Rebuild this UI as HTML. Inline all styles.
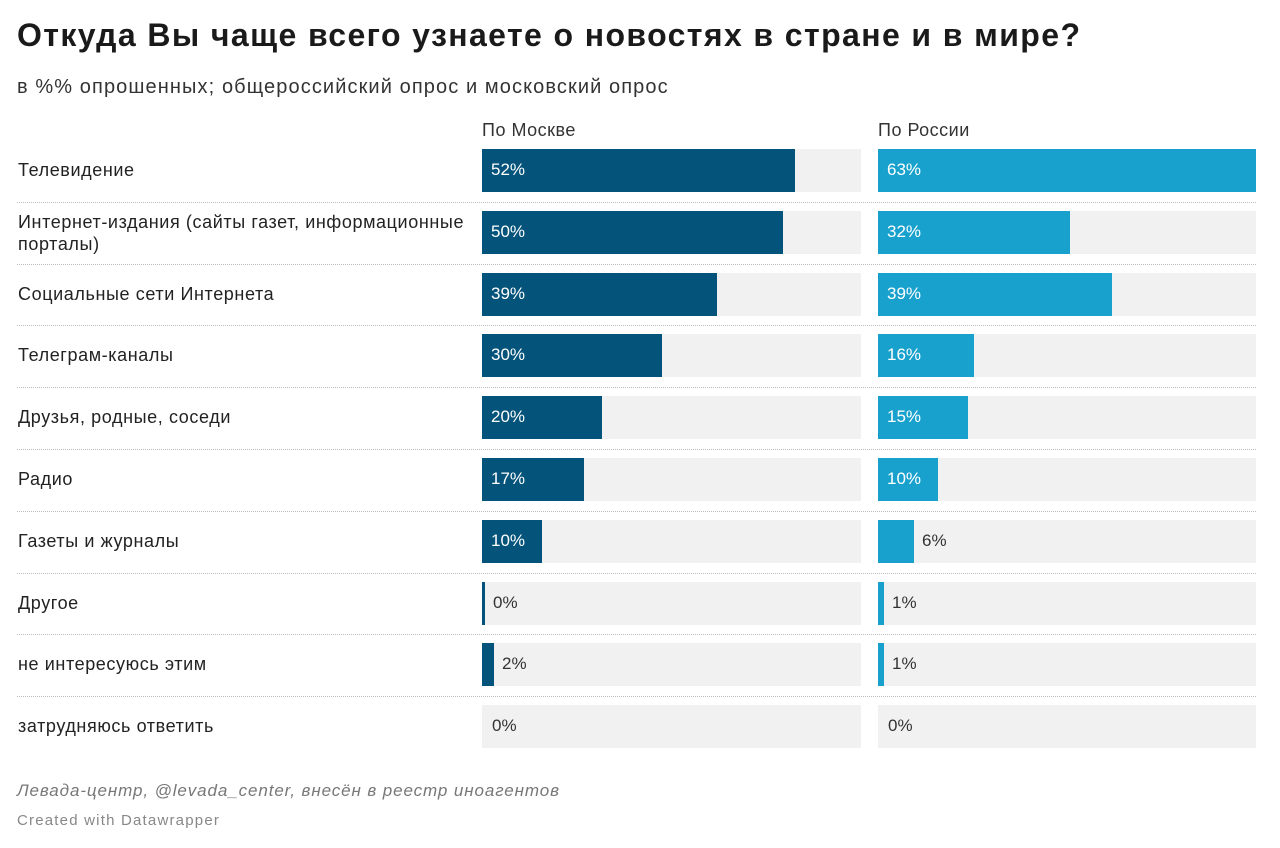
<!DOCTYPE html>
<html><head><meta charset="utf-8">
<style>
body{margin:0;background:#fff;font-family:"Liberation Sans","Noto Sans CJK SC",sans-serif;color:#222;}
#wrap{position:relative;width:1280px;height:848px;overflow:hidden;}
.t{position:absolute;white-space:nowrap;}
</style></head>
<body>
<div id="wrap">
<div class="t" style="left:17px;top:17px;font-size:32px;letter-spacing:1.4px;font-weight:bold;color:#1a1a1a;">Откуда Вы чаще всего узнаете о новостях в стране и в мире?</div>
<div class="t" style="left:17px;top:76px;font-size:20px;letter-spacing:1.1px;color:#333;">в %% опрошенных; общероссийский опрос и московский опрос</div>
<div class="t" style="left:482px;top:120px;font-size:18px;letter-spacing:0.5px;color:#333;">По Москве</div>
<div class="t" style="left:878px;top:120px;font-size:18px;letter-spacing:0.5px;color:#333;">По России</div>
<div id="rows"></div>
<div class="t" style="left:17px;top:781px;font-size:17px;letter-spacing:0.9px;font-style:italic;color:#777;">Левада-центр, @levada_center, внесён в реестр иноагентов</div>
<div class="t" style="left:17px;top:812px;font-size:15px;letter-spacing:1.2px;color:#888;">Created with Datawrapper</div>
</div>
<script>
const categories=["Телевидение","Интернет-издания (сайты газет, информационные<br>порталы)","Социальные сети Интернета","Телеграм-каналы","Друзья, родные, соседи","Радио","Газеты и журналы","Другое","не интересуюсь этим","затрудняюсь ответить"];
const moscow=[52,50,39,30,20,17,10,0.4,2,0];
const russia=[63,32,39,16,15,10,6,1,1,0];
const moscowLabels=["52%","50%","39%","30%","20%","17%","10%","0%","2%","0%"];
const russiaLabels=["63%","32%","39%","16%","15%","10%","6%","1%","1%","0%"];
const maxV=63;
const rowTop=149, rowStep=61.8, barH=43;
const cols=[{x:482,w:379,vals:moscow,labs:moscowLabels,color:"#03537a",name:"moscow"},{x:878,w:378,vals:russia,labs:russiaLabels,color:"#18a1cd",name:"russia"}];
const wrap=document.getElementById('rows');
function sx(v,w){return v/maxV*w;}
categories.forEach((c,i)=>{
  const y=rowTop+i*rowStep;
  const lab=document.createElement('div');
  lab.className='t';
  
  
  lab.style.cssText=`left:18px;top:${y+(c.includes('<br>')?0:10)}px;font-size:18px;line-height:22px;letter-spacing:0.6px;color:#222;`;
  lab.innerHTML=c;
  wrap.appendChild(lab);
  if(i>0){
    const sep=document.createElement('div');
    
    
    sep.style.cssText=`position:absolute;left:17px;width:1239px;top:${y-9}px;border-top:1px dotted #bbb;`;
    wrap.appendChild(sep);
  }
  cols.forEach(col=>{
    const bg=document.createElement('div');
    
    
    bg.style.cssText=`position:absolute;left:${col.x}px;top:${y}px;width:${col.w}px;height:${barH}px;background:#f1f1f1;`;
    wrap.appendChild(bg);
    const v=col.vals[i];
    let w=sx(v,col.w);
    if(v>0&&w<3)w=3;
    const b=document.createElement('div');
    
    
    b.style.cssText=`position:absolute;left:${col.x}px;top:${y}px;width:${w}px;height:${barH}px;background:${col.color};`;
    wrap.appendChild(b);
    const inside=w>50;
    const t=document.createElement('div');
    t.className='t';
    
    
    t.style.cssText=`left:${inside?col.x+9:col.x+w+(w>0?8:0)+(w===0?10:0)}px;top:${y+11}px;font-size:17px;color:${inside?'#fff':'#333'};`;
    t.textContent=col.labs[i];
    wrap.appendChild(t);
  });
});
</script>
</body></html>
